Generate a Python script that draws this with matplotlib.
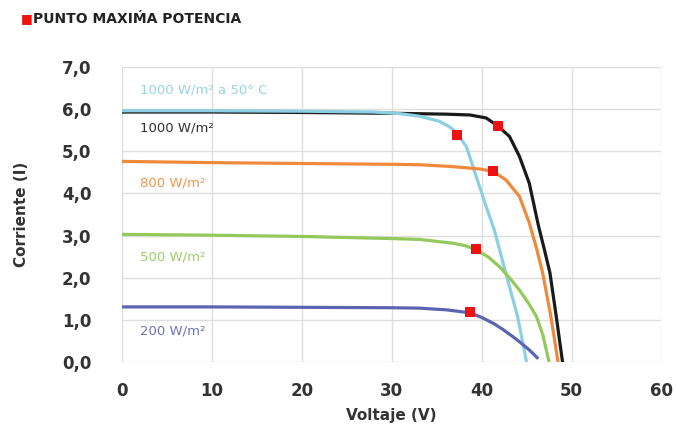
import numpy as np
import matplotlib
matplotlib.use('Agg')
import matplotlib.pyplot as plt

# curves (voltage V, current A)
v_1000 = [0, 10, 20, 30, 33.1, 36, 38.7, 40.5, 41.8, 43.1, 44.2, 45.3, 46.3, 47.0, 47.6, 48.3, 49.0]
i_1000 = [5.93, 5.93, 5.92, 5.9, 5.89, 5.88, 5.86, 5.79, 5.6, 5.35, 4.88, 4.24, 3.25, 2.65, 2.11, 1.08, 0.0]

v_1000_50 = [0, 10, 20, 28, 31, 33.1, 35.3, 36.5, 37.3, 38.3, 39.4, 40.5, 41.4, 42.7, 44.0, 45.0]
i_1000_50 = [5.96, 5.96, 5.95, 5.93, 5.89, 5.83, 5.71, 5.57, 5.42, 5.11, 4.4, 3.69, 3.14, 2.1, 1.08, 0.0]

v_800 = [0, 10, 20, 30, 33.1, 36.5, 39.8, 41.3, 42.7, 44.2, 45.3, 46.1, 46.8, 47.7, 48.5]
i_800 = [4.76, 4.73, 4.71, 4.69, 4.68, 4.64, 4.58, 4.52, 4.32, 3.93, 3.3, 2.7, 2.1, 1.08, 0.0]

v_500 = [0, 10, 20, 30, 33.1, 36.8, 38.2, 39.4, 40.7, 42, 43.1, 44.2, 45.2, 46.1, 46.8, 47.5]
i_500 = [3.03, 3.01, 2.98, 2.93, 2.91, 2.82, 2.76, 2.66, 2.5, 2.26, 2.0, 1.71, 1.4, 1.08, 0.65, 0.0]

v_200 = [0, 10, 20, 30, 33.1, 36.1, 38.7, 40.0, 41.3, 42.4, 43.5, 44.4, 45.3, 46.3]
i_200 = [1.31, 1.31, 1.3, 1.29, 1.28, 1.24, 1.17, 1.06, 0.92, 0.77, 0.6, 0.45, 0.29, 0.08]

# maximum power points
mpp_v = [41.8, 37.3, 41.3, 39.4, 38.7]
mpp_i = [5.6, 5.39, 4.54, 2.68, 1.18]

labels = ['1000 W/m²', '1000 W/m² a 50° C', '800 W/m²', '500 W/m²', '200 W/m²']
label_y = [5.55, 6.45, 4.25, 2.5, 0.75]
colors = ['#1a1a1a', '#8ccfe3', '#ef8a3c', '#93c95a', '#5b64ae']

x_ticks = [0, 10, 20, 30, 40, 50, 60]
y_ticks = [0, 1, 2, 3, 4, 5, 6, 7]

fig = plt.figure(figsize=(6.76, 4.46), dpi=100)
ax = fig.add_axes([0.1805, 0.188, 0.798, 0.662])

curves = [(v_1000, i_1000), (v_1000_50, i_1000_50), (v_800, i_800),
          (v_500, i_500), (v_200, i_200)]
for (v, i), c in zip(curves, colors):
    ax.plot(v, i, color=c, lw=2.3, solid_capstyle='butt', solid_joinstyle='round', zorder=3)

ax.scatter(mpp_v, mpp_i, marker='s', s=55, color='#ee1111', zorder=5, linewidths=0)

for lab, y, c in zip(labels, label_y, colors):
    ax.text(2, y, lab, color=c, fontsize=9.5, va='center', ha='left', alpha=0.9)

ax.set_xlim(0, 60)
ax.set_ylim(0, 7)
ax.set_xticks(x_ticks)
ax.set_yticks(y_ticks)
ax.set_xticklabels([str(t) for t in x_ticks], fontsize=12, fontweight='bold', color='#333333')
ax.set_yticklabels([f'{t:.1f}'.replace('.', ',') for t in y_ticks],
                   fontsize=12, fontweight='bold', color='#333333')
ax.tick_params(length=0, pad=22)
ax.tick_params(axis='x', pad=14)
ax.grid(True, color='#dedede', lw=1)
ax.set_axisbelow(True)
for s in ax.spines.values():
    s.set_visible(False)

ax.set_xlabel('Voltaje (V)', fontsize=11, fontweight='bold', color='#333333', labelpad=6)
ax.set_ylabel('Corriente (I)', fontsize=11, fontweight='bold', color='#333333', labelpad=24)

fig.text(0.031, 0.958, '■', color='#ee1111', fontsize=9, va='center')
fig.text(0.049, 0.958, 'PUNTO MAXIḾA POTENCIA', color='#222222', fontsize=10,
         fontweight='bold', va='center')

fig.savefig('out.png', dpi=100, facecolor='white')
